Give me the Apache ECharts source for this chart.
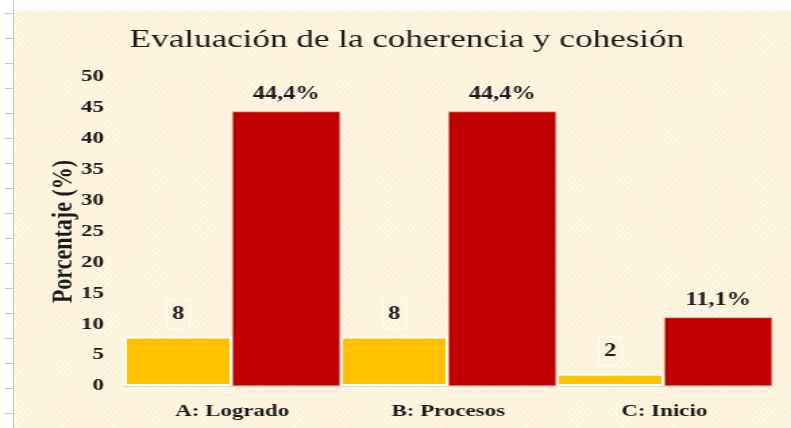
<!DOCTYPE html>
<html>
<head>
    <meta charset="utf-8">
    <title>Evaluación de la coherencia y cohesión</title>
    <script src="https://cdn.jsdelivr.net/npm/echarts@6/dist/echarts.min.js"></script>
    <style>
        html, body { margin: 0; padding: 0; background: #fff; overflow: hidden; }
        #fondo {
            position: absolute; left: 13px; top: 10px; width: 778px; height: 418px;
            background-color: #fdf1d7;
            background-image:
                repeating-linear-gradient(45deg, rgba(255,255,255,0.35) 0 1px, transparent 1px 4px),
                repeating-linear-gradient(-45deg, rgba(255,255,255,0.35) 0 1px, transparent 1px 4px);
        }
        #regla {
            position: absolute; left: 5px; top: 0; width: 8px; height: 428px;
            border-right: 1px solid #c8c8c8;
            background-image: repeating-linear-gradient(180deg, transparent 0 12px, #c8c8c8 12px 13px, transparent 13px 25px);
            background-position: 0 1px;
        }
        /* la imagen original está estirada en horizontal */
        #main {
            position: absolute; left: 0; top: 0; width: 586px; height: 428px;
            transform: scaleX(1.35); transform-origin: 0 0;
        }
    </style>
</head>
<body>
    <div id="fondo"></div>
    <div id="regla"></div>
    <div id="main"></div>

    <script type="text/javascript">
        // datos
        var categorias = ['A: Logrado', 'B: Procesos', 'C: Inicio'];
        var cantidad = [8, 8, 2];
        var porcentaje = [44.4, 44.4, 11.1];
        var ticksY = [0, 50, 5];   // min, max, intervalo

        var fuente = 'Liberation Serif';
        var myChart = echarts.init(document.getElementById('main'));

        myChart.setOption({
            backgroundColor: 'transparent',
            title: {
                text: 'Evaluación de la coherencia y cohesión',
                left: 91,
                top: 22,
                textStyle: { fontFamily: fuente, fontSize: 26, fontWeight: 'normal', color: '#1a1a1a' }
            },
            grid: { left: 92, right: 14, top: 77, bottom: 42 },
            xAxis: {
                type: 'category',
                data: categorias,
                axisLine: { lineStyle: { color: '#d9d9d9' } },
                axisTick: { show: false },
                axisLabel: { margin: 17, fontFamily: fuente, fontSize: 17, fontWeight: 'bold', color: '#1a1a1a' }
            },
            yAxis: {
                type: 'value',
                min: ticksY[0],
                max: ticksY[1],
                interval: ticksY[2],
                name: 'Porcentaje (%)',
                nameLocation: 'middle',
                nameGap: 34,
                nameMoveOverlap: false,
                nameTextStyle: { fontFamily: fuente, fontSize: 22, fontWeight: 'bold', color: '#1a1a1a' },
                axisLine: { show: false },
                axisTick: { show: false },
                splitLine: { show: false },
                axisLabel: { margin: 15, fontFamily: fuente, fontSize: 17, fontWeight: 'bold', color: '#1a1a1a' }
            },
            series: [
                {
                    name: 'Cantidad',
                    type: 'bar',
                    data: cantidad,
                    barGap: '0%',
                    barCategoryGap: '0%',
                    itemStyle: { color: '#ffc000', borderColor: '#ffffff', borderWidth: 2 },
                    label: {
                        show: true,
                        position: 'top',
                        distance: 8,
                        formatter: '{c}',
                        fontFamily: fuente, fontSize: 18, fontWeight: 'bold', color: '#1a1a1a',
                        borderColor: '#ffffff', borderWidth: 1.5, borderType: 'dotted',
                        padding: [6, 4, 5, 4]
                    }
                },
                {
                    name: 'Porcentaje',
                    type: 'bar',
                    data: porcentaje,
                    itemStyle: { color: '#c00000', borderColor: '#f0d0c0', borderWidth: 0.5 },
                    label: {
                        show: true,
                        position: 'top',
                        distance: 8,
                        formatter: function (p) { return String(p.value).replace('.', ',') + '%'; },
                        fontFamily: fuente, fontSize: 18, fontWeight: 'bold', color: '#1a1a1a'
                    }
                }
            ]
        });
    </script>
</body>
</html>
